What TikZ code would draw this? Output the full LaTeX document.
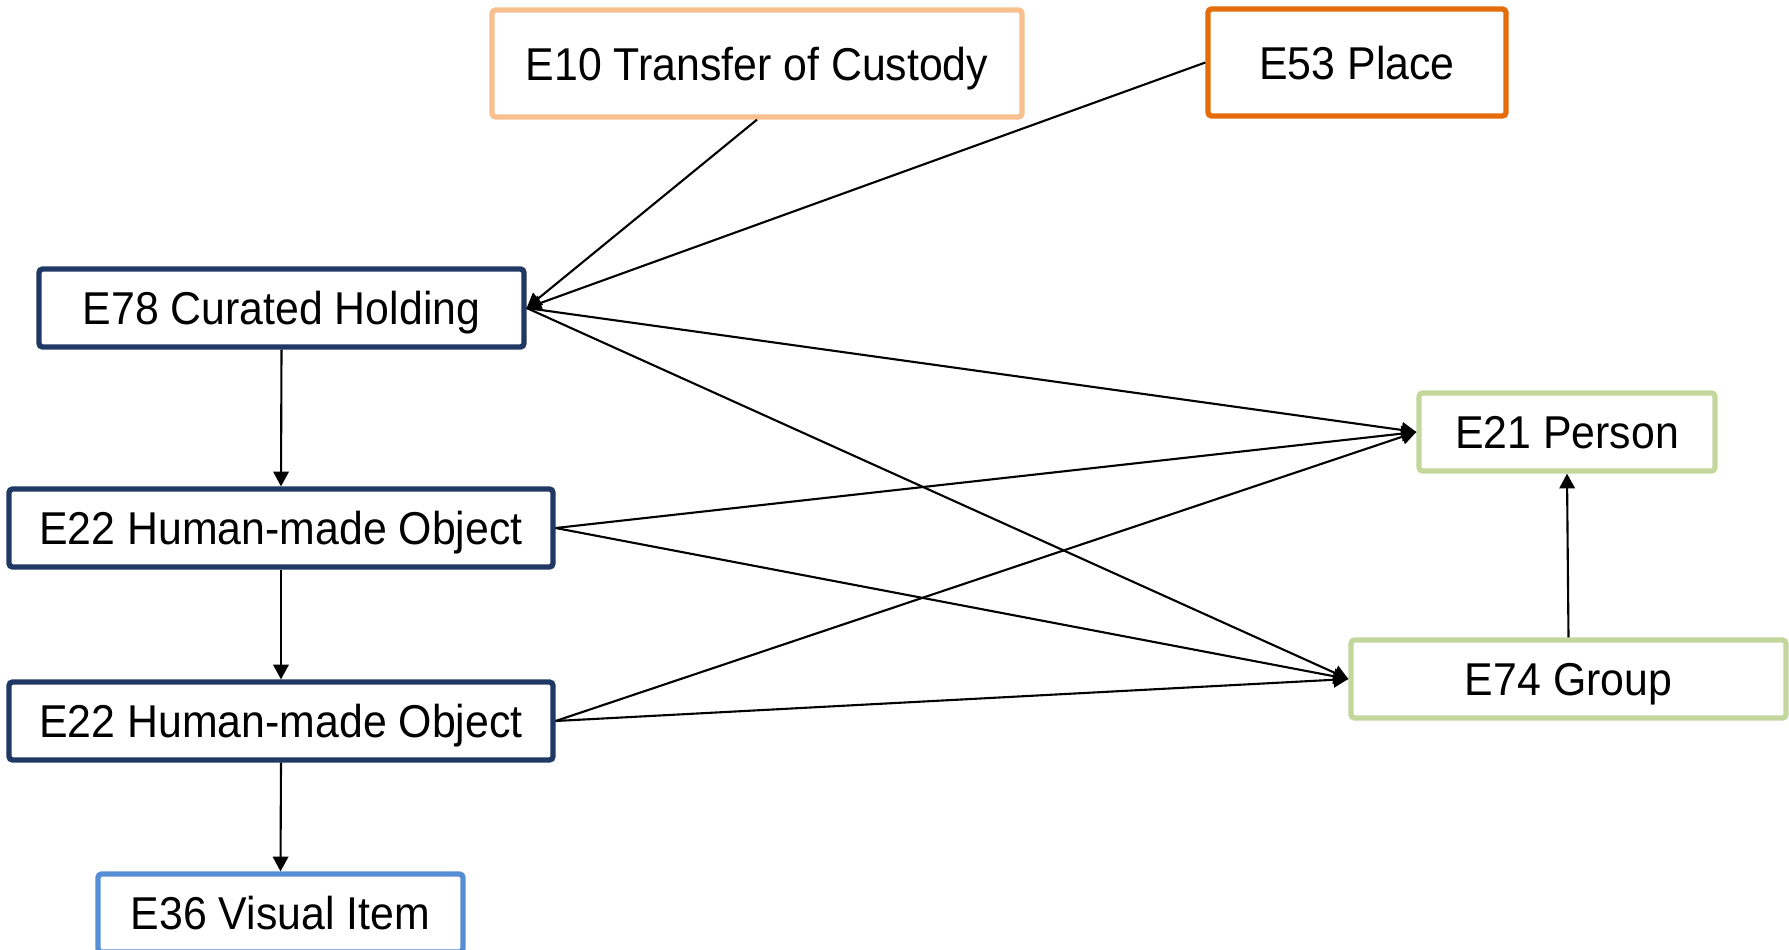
\documentclass[tikz,border=0pt]{standalone}
\usepackage{fontspec}
\setmainfont{Liberation Sans}[FakeStretch=0.93]
\usetikzlibrary{arrows.meta}
\definecolor{navy}{RGB}{31,56,100}
\definecolor{peach}{RGB}{248,192,142}
\definecolor{rust}{RGB}{228,108,10}
\definecolor{sky}{RGB}{85,142,213}
\definecolor{sage}{RGB}{195,214,155}
\tikzset{
  entity/.style={draw, line width=1.5pt, rounded corners=1pt, fill=white,
    inner sep=0pt, minimum height=0.78cm, text height=9.4pt, text depth=0pt,
    font=\fontsize{13.1pt}{15pt}\selectfont},
  link/.style={-{Triangle[length=4.2pt,width=4.4pt]}, line width=0.6pt}
}
\begin{document}
\begin{tikzpicture}
        \useasboundingbox (0,0) rectangle (17.89,-9.50);
        \node[entity, draw=peach, minimum width=5.30cm, minimum height=1.07cm] at (7.57, -0.635) (custody) {E10 Transfer of Custody};
        \node[entity, draw=rust, minimum width=2.98cm, minimum height=1.07cm] at (13.57, -0.625) (place) {E53 Place};
        \node[entity, draw=navy, minimum width=4.85cm] at (2.815, -3.08) (holding) {E78 Curated Holding};
        \node[entity, draw=navy, minimum width=5.44cm] at (2.81, -5.28) (objecta) {E22 Human-made Object};
        \node[entity, draw=navy, minimum width=5.44cm] at (2.81, -7.21) (objectb) {E22 Human-made Object};
        \node[entity, draw=sky, minimum width=3.65cm] at (2.805, -9.13) (visual) {E36 Visual Item};
        \node[entity, draw=sage, minimum width=2.96cm] at (15.67, -4.32) (person) {E21 Person};
        \node[entity, draw=sage, minimum width=4.35cm] at (15.685, -6.79) (group) {E74 Group};
        % into the holding
        \draw[link] (custody.south) -- (holding.east);
        \draw[link] (place.west) -- (holding.east);
        % to the actors
        \draw[link] (holding.east) -- (person.west);
        \draw[link] (holding.east) -- (group.west);
        \draw[link] (objecta.east) -- (person.west);
        \draw[link] (objecta.east) -- (group.west);
        \draw[link] (objectb.east) -- (person.west);
        \draw[link] (objectb.east) -- (group.west);
        \draw[link] (group.north) -- (person.south);
        % down the left column
        \draw[link] (holding.south) -- (objecta.north);
        \draw[link] (objecta.south) -- (objectb.north);
        \draw[link] (objectb.south) -- (visual.north);
    \end{tikzpicture}
\end{document}
